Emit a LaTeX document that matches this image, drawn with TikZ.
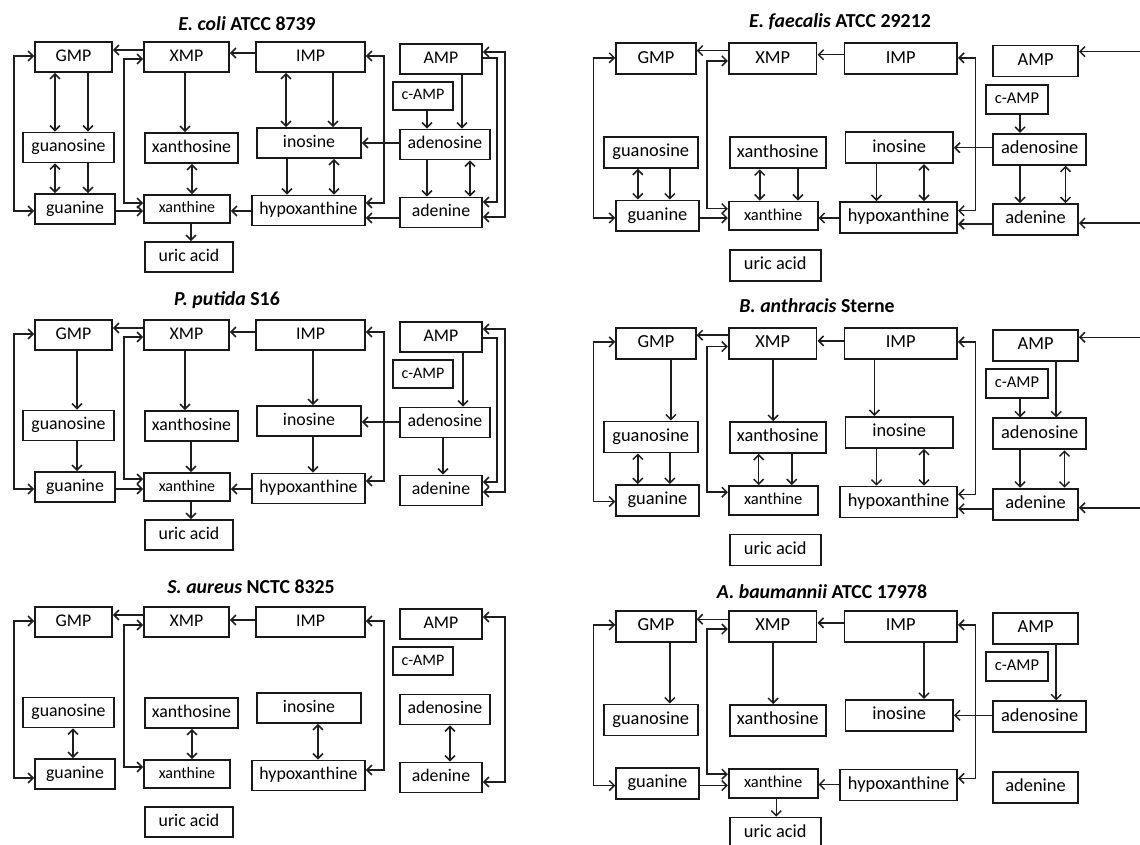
\documentclass[tikz,border=0pt]{standalone}
\usepackage{fontspec}
\setmainfont{Carlito}
\usepackage{tikz}
\usetikzlibrary{arrows.meta,shadows}
\definecolor{boxline}{RGB}{25,25,25}
\definecolor{arrowline}{RGB}{30,30,30}

% the same fourteen boxes in every panel
\newcommand{\purinenodes}{%
  \node[mbox, minimum width=77] (GMP) at (73.5,57) {GMP};
  \node[mbox, minimum width=85] (XMP) at (186.5,57) {XMP};
  \node[mbox, minimum width=109] (IMP) at (310.5,57) {IMP};
  \node[mbox, minimum width=82] (AMP) at (441,59) {AMP};
  \node[sbox, minimum width=60] (cAMP) at (423,96) {c-AMP};
  \node[mbox, minimum width=91] (guanosine) at (68.5,147.5) {guanosine};
  \node[mbox, minimum width=93] (xanthosine) at (191.5,148) {xanthosine};
  \node[mbox, minimum width=104] (inosine) at (309,143) {inosine};
  \node[mbox, minimum width=90] (adenosine) at (445,144.5) {adenosine};
  \node[mbox, minimum width=80] (guanine) at (75,209) {guanine};
  \node[sbox, minimum width=86] (xanthine) at (187,209) {xanthine};
  \node[mbox, minimum width=113] (hypoxanthine) at (308.5,210.5) {hypoxanthine};
  \node[mbox, minimum width=82] (adenine) at (441,212.5) {adenine};
  \node[mbox, minimum width=88] (uric) at (189,257) {uric acid};
}

\begin{document}
\begin{tikzpicture}[x=1pt, y=-1pt,
  mbox/.style={draw=boxline, line width=1.8pt, fill=white, inner sep=0pt, minimum height=30,
    text height=12, text depth=3.5, font=\fontsize{17.8}{20}\selectfont,
    drop shadow={shadow xshift=0.8pt, shadow yshift=-0.8pt, opacity=0.3}},
  sbox/.style={mbox, minimum height=28, text height=11, text depth=3, font=\fontsize{16}{18}\selectfont},
  arr/.style={draw=arrowline, line width=1.5pt, -{Straight Barb[length=5pt,width=10pt]}},
  darr/.style={arr, {Straight Barb[length=5pt,width=10pt]}-{Straight Barb[length=5pt,width=10pt]}},
  title/.style={font=\fontsize{19.8}{22}\selectfont\bfseries}]

  \fill[white] (0,0) rectangle (1140,845);
  \useasboundingbox (0,0) rectangle (1140,845);

  % Titles
  \node[title] (t-ec) at (247,24) {\textit{E. coli} ATCC 8739};
  \node[title] (t-ef) at (840,22) {\textit{E. faecalis} ATCC 29212};
  \node[title] (t-pp) at (227,300) {\textit{P. putida} S16};
  \node[title] (t-ba) at (817,306) {\textit{B. anthracis} Sterne};
  \node[title] (t-sa) at (251,587) {\textit{S. aureus} NCTC 8325};
  \node[title] (t-ab) at (822,592) {\textit{A. baumannii} ATCC 17978};

  % --- E. coli ---
  \begin{scope}[name prefix=ec-]
    \purinenodes
    \draw[arr] (XMP.west |- 0,50) -- (GMP.east |- 0,50);
    \draw[arr] (IMP.west |- 0,53) -- (XMP.east |- 0,53);
    \draw[darr] (GMP.west |- 0,56) -| (14,211) -- (guanine.west |- 0,211);
    \draw[darr] (XMP.west |- 0,59) -| (124,203) -- (xanthine.west |- 0,203);
    \draw[arr] (guanine.east |- 0,211) -- (xanthine.west |- 0,211);
    \draw[arr] (hypoxanthine.west |- 0,211) -- (xanthine.east |- 0,211);
    \draw[darr] (IMP.east |- 0,56) -| (384,203) -- (hypoxanthine.east |- 0,203);
    \draw[arr] (adenosine.west |- 0,143) -- (inosine.east |- 0,143);
    \draw[arr] (adenine.west |- 0,218) -- (hypoxanthine.east |- 0,218);
    \draw[darr] (GMP.south -| 55,0) -- (guanosine.north -| 55,0);
    \draw[arr] (GMP.south -| 88,0) -- (guanosine.north -| 88,0);
    \draw[darr] (guanosine.south -| 55,0) -- (guanine.north -| 55,0);
    \draw[arr] (guanosine.south -| 88,0) -- (guanine.north -| 88,0);
    \draw[arr] (XMP.south -| 185,0) -- (xanthosine.north -| 185,0);
    \draw[darr] (xanthosine.south -| 192,0) -- (xanthine.north -| 192,0);
    \draw[arr] (xanthine.south -| 191,0) -- (uric.north -| 191,0);
    \draw[darr] (IMP.south -| 286,0) -- (inosine.north -| 286,0);
    \draw[arr] (IMP.south -| 333,0) -- (inosine.north -| 333,0);
    \draw[arr] (inosine.south -| 287,0) -- (hypoxanthine.north -| 287,0);
    \draw[darr] (inosine.south -| 334,0) -- (hypoxanthine.north -| 334,0);
    \draw[arr] (cAMP.south -| 427,0) -- (adenosine.north -| 427,0);
    \draw[arr] (AMP.south -| 462,0) -- (adenosine.north -| 462,0);
    \draw[arr] (adenosine.south -| 427,0) -- (adenine.north -| 427,0);
    \draw[darr] (adenosine.south -| 470,0) -- (adenine.north -| 470,0);
    \draw[darr] (AMP.east |- 0,52) -| (505,217) -- (adenine.east |- 0,217);
    \draw[arr] (AMP.east |- 0,58) -| (497,202) -- (adenine.east |- 0,202);
  \end{scope}

  % --- E. faecalis ---
  \begin{scope}[name prefix=ef-, shift={(580,0)}, scale=1.033, transform shape]
    \purinenodes
    \coordinate (rA) at (545,50);
    \coordinate (rB) at (545,216);
    \draw[arr] (XMP.west |- 0,49) -- (GMP.east |- 0,49);
    \draw[arr] (IMP.west |- 0,53) -- (XMP.east |- 0,53);
    \draw[darr] (GMP.west |- 0,56) -| (13,211) -- (guanine.west |- 0,211);
    \draw[darr] (XMP.west |- 0,59) -| (123,202) -- (xanthine.west |- 0,202);
    \draw[arr] (guanine.east |- 0,211) -- (xanthine.west |- 0,211);
    \draw[arr] (hypoxanthine.west |- 0,211) -- (xanthine.east |- 0,211);
    \draw[darr] (IMP.east |- 0,56) -| (383,204) -- (hypoxanthine.east |- 0,204);
    \draw[arr] (adenosine.west |- 0,143) -- (inosine.east |- 0,143);
    \draw[arr] (adenine.west |- 0,217) -- (hypoxanthine.east |- 0,217);
    \draw[darr] (guanosine.south -| 56,0) -- (guanine.north -| 56,0);
    \draw[arr] (guanosine.south -| 87,0) -- (guanine.north -| 87,0);
    \draw[darr] (xanthosine.south -| 174,0) -- (xanthine.north -| 174,0);
    \draw[arr] (xanthosine.south -| 211,0) -- (xanthine.north -| 211,0);
    \draw[arr] (inosine.south -| 287,0) -- (hypoxanthine.north -| 287,0);
    \draw[darr] (inosine.south -| 333,0) -- (hypoxanthine.north -| 333,0);
    \draw[arr] (cAMP.south -| 426,0) -- (adenosine.north -| 426,0);
    \draw[arr] (adenosine.south -| 426,0) -- (adenine.north -| 426,0);
    \draw[darr] (adenosine.south -| 470,0) -- (adenine.north -| 470,0);
    \draw[arr] (rA) -- (AMP.east |- rA);
    \draw[arr] (rB) -- (adenine.east |- rB);
  \end{scope}

  % --- P. putida ---
  \begin{scope}[name prefix=pp-, shift={(0,278)}]
    \purinenodes
    \draw[arr] (XMP.west |- 0,50) -- (GMP.east |- 0,50);
    \draw[arr] (IMP.west |- 0,54) -- (XMP.east |- 0,54);
    \draw[darr] (GMP.west |- 0,56) -| (14,211) -- (guanine.west |- 0,211);
    \draw[darr] (XMP.west |- 0,59) -| (124,201) -- (xanthine.west |- 0,201);
    \draw[arr] (guanine.east |- 0,211) -- (xanthine.west |- 0,211);
    \draw[arr] (hypoxanthine.west |- 0,211) -- (xanthine.east |- 0,211);
    \draw[darr] (IMP.east |- 0,54) -| (384,203) -- (hypoxanthine.east |- 0,203);
    \draw[arr] (adenosine.west |- 0,144) -- (inosine.east |- 0,144);
    \draw[arr] (GMP.south -| 77,0) -- (guanosine.north -| 77,0);
    \draw[arr] (guanosine.south -| 77,0) -- (guanine.north -| 77,0);
    \draw[arr] (XMP.south -| 185,0) -- (xanthosine.north -| 185,0);
    \draw[arr] (xanthosine.south -| 191,0) -- (xanthine.north -| 191,0);
    \draw[arr] (xanthine.south -| 191,0) -- (uric.north -| 191,0);
    \draw[arr] (IMP.south -| 313,0) -- (inosine.north -| 313,0);
    \draw[arr] (inosine.south -| 313,0) -- (hypoxanthine.north -| 313,0);
    \draw[arr] (AMP.south -| 463,0) -- (adenosine.north -| 463,0);
    \draw[arr] (adenosine.south -| 443,0) -- (adenine.north -| 443,0);
    \draw[darr] (AMP.east |- 0,51) -| (505,214) -- (adenine.east |- 0,214);
    \draw[arr] (AMP.east |- 0,60) -| (497,204) -- (adenine.east |- 0,204);
  \end{scope}

  % --- B. anthracis ---
  \begin{scope}[name prefix=ba-, shift={(580,284.6)}, scale=1.033, transform shape]
    \purinenodes
    \coordinate (rA) at (545,51);
    \coordinate (rB) at (545,216);
    \draw[arr] (XMP.west |- 0,49) -- (GMP.east |- 0,49);
    \draw[arr] (IMP.west |- 0,54.5) -- (XMP.east |- 0,54.5);
    \draw[darr] (GMP.west |- 0,55.5) -| (13,210) -- (guanine.west |- 0,210);
    \draw[darr] (XMP.west |- 0,60) -| (123,201) -- (xanthine.west |- 0,201);
    \draw[darr] (IMP.east |- 0,55.5) -| (383,203) -- (hypoxanthine.east |- 0,203);
    \draw[arr] (adenine.west |- 0,217) -- (hypoxanthine.east |- 0,217);
    \draw[arr] (GMP.south -| 88,0) -- (guanosine.north -| 88,0);
    \draw[darr] (guanosine.south -| 56,0) -- (guanine.north -| 56,0);
    \draw[arr] (guanosine.south -| 87,0) -- (guanine.north -| 87,0);
    \draw[arr] (XMP.south -| 187,0) -- (xanthosine.north -| 187,0);
    \draw[darr] (xanthosine.south -| 173,0) -- (xanthine.north -| 173,0);
    \draw[arr] (xanthosine.south -| 205,0) -- (xanthine.north -| 205,0);
    \draw[arr] (IMP.south -| 285,0) -- (inosine.north -| 285,0);
    \draw[arr] (inosine.south -| 287,0) -- (hypoxanthine.north -| 287,0);
    \draw[darr] (inosine.south -| 333,0) -- (hypoxanthine.north -| 333,0);
    \draw[arr] (cAMP.south -| 426,0) -- (adenosine.north -| 426,0);
    \draw[arr] (AMP.south -| 461,0) -- (adenosine.north -| 461,0);
    \draw[arr] (adenosine.south -| 426,0) -- (adenine.north -| 426,0);
    \draw[darr] (adenosine.south -| 469,0) -- (adenine.north -| 469,0);
    \draw[arr] (rA) -- (AMP.east |- rA);
    \draw[arr] (rB) -- (adenine.east |- rB);
  \end{scope}

  % --- S. aureus ---
  \begin{scope}[name prefix=sa-, shift={(0,565)}]
    \purinenodes
    \draw[arr] (XMP.west |- 0,50) -- (GMP.east |- 0,50);
    \draw[arr] (IMP.west |- 0,55) -- (XMP.east |- 0,55);
    \draw[darr] (GMP.west |- 0,56) -| (14,213) -- (guanine.west |- 0,213);
    \draw[darr] (XMP.west |- 0,60) -| (124,202) -- (xanthine.west |- 0,202);
    \draw[darr] (IMP.east |- 0,56) -| (384,205) -- (hypoxanthine.east |- 0,205);
    \draw[darr] (guanosine.south -| 73,0) -- (guanine.north -| 73,0);
    \draw[darr] (xanthosine.south -| 192,0) -- (xanthine.north -| 192,0);
    \draw[darr] (inosine.south -| 318,0) -- (hypoxanthine.north -| 318,0);
    \draw[darr] (adenosine.south -| 450,0) -- (adenine.north -| 450,0);
    \draw[darr] (AMP.east |- 0,52) -| (505,217) -- (adenine.east |- 0,217);
  \end{scope}

  % --- A. baumannii ---
  \begin{scope}[name prefix=ab-, shift={(580,567.6)}, scale=1.033, transform shape]
    \purinenodes
    \draw[arr] (XMP.west |- 0,50) -- (GMP.east |- 0,50);
    \draw[arr] (IMP.west |- 0,53.5) -- (XMP.east |- 0,53.5);
    \draw[darr] (GMP.west |- 0,55.5) -| (13,211) -- (guanine.west |- 0,211);
    \draw[darr] (XMP.west |- 0,59.5) -| (123,200) -- (xanthine.west |- 0,200);
    \draw[arr] (guanine.east |- 0,211) -- (xanthine.west |- 0,211);
    \draw[arr] (hypoxanthine.west |- 0,210) -- (xanthine.east |- 0,210);
    \draw[darr] (IMP.east |- 0,55.5) -| (383,204) -- (hypoxanthine.east |- 0,204);
    \draw[arr] (adenosine.west |- 0,143) -- (inosine.east |- 0,143);
    \draw[arr] (GMP.south -| 87,0) -- (guanosine.north -| 87,0);
    \draw[arr] (XMP.south -| 187,0) -- (xanthosine.north -| 187,0);
    \draw[arr] (xanthine.south -| 190,0) -- (uric.north -| 190,0);
    \draw[arr] (IMP.south -| 333,0) -- (inosine.north -| 333,0);
    \draw[arr] (AMP.south -| 461,0) -- (adenosine.north -| 461,0);
  \end{scope}
\end{tikzpicture}
\end{document}
